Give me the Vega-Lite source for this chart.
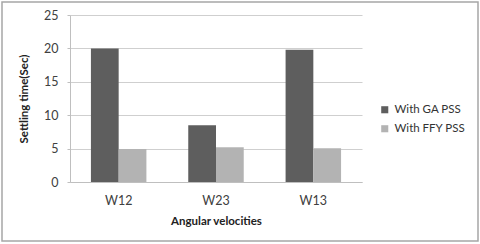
{
  "$schema": "https://vega.github.io/schema/vega-lite/v6.json",
  "autosize": "none",
  "width": 292,
  "height": 167,
  "padding": {"left": 70, "top": 15, "right": 118, "bottom": 62},
  "background": "white",
  "config": {
    "font": "Lato",
    "view": {"stroke": null},
    "axis": {"labelFont": "Lato", "titleFont": "Lato"},
    "legend": {"labelFont": "Lato"}
  },
  "layer": [
    {
      "data": {"values": [{"frame": 1}]},
      "mark": {"type": "rect", "fill": null, "stroke": "#a6a6a6", "strokeWidth": 1.5},
      "encoding": {
        "x": {"value": -68},
        "x2": {"value": 408},
        "y": {"value": -13},
        "y2": {"value": 226}
      }
    },
    {
      "data": {
        "values": [
          {"velocity": "W12", "series": "With GA PSS", "time": 20.0},
          {"velocity": "W12", "series": "With FFY PSS", "time": 4.95},
          {"velocity": "W23", "series": "With GA PSS", "time": 8.5},
          {"velocity": "W23", "series": "With FFY PSS", "time": 5.2},
          {"velocity": "W13", "series": "With GA PSS", "time": 19.8},
          {"velocity": "W13", "series": "With FFY PSS", "time": 5.05}
        ]
      },
      "mark": {"type": "bar"},
      "encoding": {
        "x": {
          "field": "velocity",
          "type": "nominal",
          "sort": ["W12", "W23", "W13"],
          "scale": {"paddingInner": 0.43, "paddingOuter": 0.215},
          "axis": {
            "title": "Angular velocities",
            "titleFontSize": 11.5,
            "titleFontWeight": "bold",
            "titleColor": "#222222",
            "titlePadding": 9,
            "labelAngle": 0,
            "labelFontSize": 12.5,
            "labelColor": "#404040",
            "labelPadding": 12,
            "ticks": false,
            "domainColor": "#bfbfbf",
            "domainWidth": 1
          }
        },
        "xOffset": {"field": "series", "type": "nominal", "sort": ["With GA PSS", "With FFY PSS"]},
        "y": {
          "field": "time",
          "type": "quantitative",
          "scale": {"domain": [0, 25]},
          "axis": {
            "title": "Settling time(Sec)",
            "titleFontSize": 11.5,
            "titleFontWeight": "bold",
            "titleColor": "#222222",
            "titlePadding": 14,
            "values": [0, 5, 10, 15, 20, 25],
            "labelFontSize": 12.5,
            "labelColor": "#404040",
            "labelPadding": 9,
            "tickSize": 3,
            "tickColor": "#bfbfbf",
            "domainColor": "#bfbfbf",
            "gridColor": "#cfcfcf",
            "gridWidth": 1
          }
        },
        "color": {
          "field": "series",
          "type": "nominal",
          "sort": ["With GA PSS", "With FFY PSS"],
          "scale": {"domain": ["With GA PSS", "With FFY PSS"], "range": ["#5e5e5e", "#b3b3b3"]},
          "legend": {
            "title": null,
            "orient": "none",
            "legendX": 309,
            "legendY": 89,
            "symbolType": "square",
            "symbolSize": 50,
            "symbolStrokeWidth": 0,
            "labelFontSize": 11.5,
            "labelColor": "#333333",
            "rowPadding": 6,
            "labelOffset": 4
          }
        }
      }
    }
  ]
}
